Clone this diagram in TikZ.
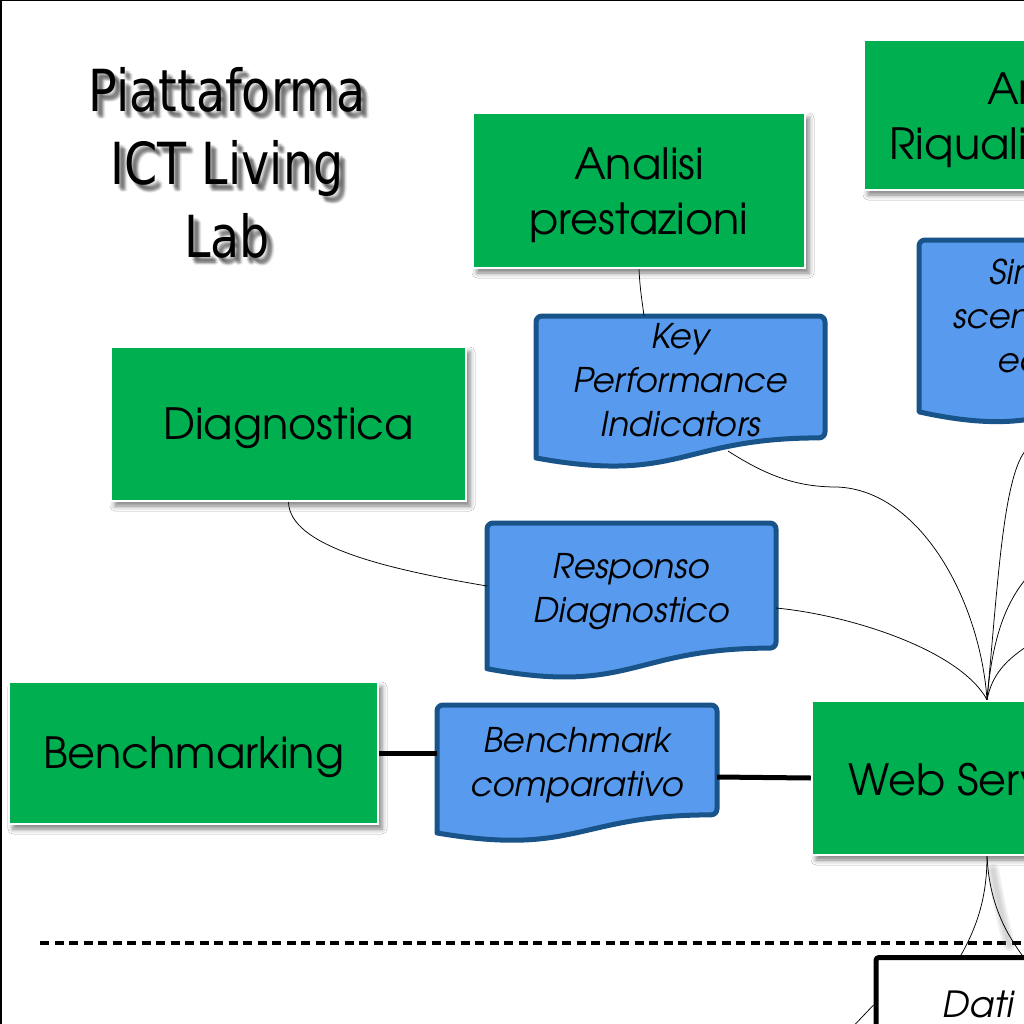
\documentclass[tikz,border=0pt]{standalone}
\usepackage{fontspec}
\setmainfont{texgyreadventor}[Extension=.otf, UprightFont=*-regular, ItalicFont=*-italic, BoldFont=*-bold, BoldItalicFont=*-bolditalic]
\newfontfamily\titlefont[FakeStretch=0.82]{DejaVu Sans}
\usetikzlibrary{calc,shadows.blur}
\definecolor{boxgreen}{RGB}{0,176,80}
\definecolor{docfill}{RGB}{88,155,238}
\definecolor{docedge}{RGB}{24,84,138}
\newcommand\firstline{\rule{0pt}{42pt}}
\tikzset{
  greenbox/.style={rectangle, fill=boxgreen, draw=white, line width=2.5pt, align=center,
    font=\fontsize{43}{55}\selectfont, inner sep=0pt,
    execute at begin node={\rule{0pt}{#1}},
    blur shadow={shadow xshift=4pt, shadow yshift=-5pt, shadow blur radius=5pt, shadow opacity=50}},
  greenbox/.default=41pt,
  docframe/.style={rectangle, inner sep=0pt, outer sep=0pt},
  doctext/.style={align=center, font=\fontsize{34}{44}\selectfont\itshape, inner sep=0pt},
  docshape/.style={fill=docfill, draw=docedge, line width=5pt, line join=round},
  thinlink/.style={draw=black, line width=0.75pt},
  thicklink/.style={draw=black, line width=5pt},
  titletext/.style={align=center, font=\titlefont\fontsize{58}{73}\selectfont, inner sep=0pt},
}
\newcommand\docoutline[1]{%
  \path[docshape] ($(#1.north west)!0.934!(#1.south west)$) [rounded corners=6pt]
    -- (#1.north west) -- (#1.north east) -- ($(#1.north east)!0.802!(#1.south east)$) [sharp corners]
    .. controls ($(#1.north)!0.802!(#1.south)$) and ($(#1.north)!1.107!(#1.south)$) .. cycle;}
\begin{document}
\begin{tikzpicture}[x=1pt,y=-1pt]
\useasboundingbox (0,0) rectangle (1024,1024);
\clip (0,0) rectangle (1024,1024);
\fill[white] (0,0) rectangle (1024,1024);
% frame
\draw[line width=1.5pt] (0.75,1040) -- (0.75,0.75) -- (1040,0.75);

% title with soft shadow
\foreach \dx/\dy [count=\i] in {3/4,5/5,4/6,6/4,5/7,7/6,6/6,4/3,6/8,8/7} {
  \node[titletext, text=black, opacity=0.08] (tsh\i) at (227+\dx,163+\dy) {Piattaforma\\ICT Living\\Lab};
}
\node[titletext] (title) at (227,163) {Piattaforma\\ICT Living\\Lab};

% dashed separator
\coordinate (dashL) at (40,943);
\coordinate (dashR) at (1040,943);
\draw[line width=4pt, dash pattern=on 9pt off 5.5pt] (dashL) -- (dashR);

% green boxes
\node[greenbox, minimum width=332pt, minimum height=155pt] (ap) at (639,190.5) {\firstline Analisi\\prestazioni};
\node[greenbox, minimum width=376pt, minimum height=150pt] (ar) at (1052,115) {\firstline Analisi\\Riqualificazione};
\node[greenbox, minimum width=355pt, minimum height=154pt] (diag) at (288.5,424) {Diagnostica};
\node[greenbox, minimum width=369pt, minimum height=142pt] (bm) at (193.5,753) {Benchmarking};
\node[greenbox=35pt, minimum width=350pt, minimum height=154pt] (ws) at (987,778) {Web Services};

% document shapes
\node[docframe, minimum width=289pt, minimum height=152pt] (kpi) at (680.5,392) {};
\node[docframe, minimum width=289pt, minimum height=156pt] (resp) at (631.5,601) {};
\node[docframe, minimum width=280pt, minimum height=137pt] (bc) at (577,773.5) {};
\node[docframe, minimum width=289pt, minimum height=184pt] (sim) at (1063.5,332) {};
\docoutline{kpi}
\docoutline{resp}
\docoutline{bc}
\docoutline{sim}
\node[doctext] (kpit) at (680.5,380) {Key\\Performance\\Indicators};
\node[doctext] (respt) at (631.5,592) {Responso\\Diagnostico};
\node[doctext] (bct) at (577,765) {Benchmark\\comparativo};
\node[doctext] (simt) at (1086,316) {Simulazione\\scenari tecnico-\\economici};

% data box
\node[rectangle, draw=black, line width=5pt, fill=white, rounded corners=3pt,
      minimum width=224pt, minimum height=140pt] (dati) at (988,1027.5) {};
\node[doctext, font=\fontsize{36}{44}\selectfont\itshape] (datit) at (978,1004) {Dati};

% shadow under the lower connectors
\foreach \w in {12,8,4} {
  \draw[gray, line width=\w pt, opacity=0.12, line cap=round] (993,870) .. controls (998,900) and (1004,925) .. (1009,945);
}

% thick connectors
\draw[thicklink] (bm.east) -- (bm.east -| bc.west);
\draw[thicklink] ($(bc.north east)+(0,72)$) -- (ws.west);

% thin connectors
\draw[thinlink] (ap.south) .. controls (640,290) and (642,300) .. ($(kpi.north west)+(108,0)$);
\draw[thinlink] ($(kpi.north west)+(192,135)$) .. controls (770,478) and (800,487) .. (837,487)
   .. controls (920,490) and (980,600) .. (ws.north);
\draw[thinlink] (diag.south) .. controls (290,545) and (380,568) .. ($(resp.north west)+(0,63)$);
\draw[thinlink] ($(resp.north east)+(0,85)$) .. controls (850,615) and (960,650) .. (ws.north);
\coordinate (s1) at (1040,443);
\coordinate (s2) at (1032,572);
\coordinate (s3) at (1032,643);
\draw[thinlink] (s1) .. controls (1005,440) and (1000,560) .. (ws.north);
\draw[thinlink] (s2) .. controls (1005,600) and (992,640) .. (ws.north);
\draw[thinlink] (s3) .. controls (1005,660) and (992,675) .. (ws.north);
\draw[thinlink] (ws.south) .. controls (987,895) and (978,925) .. (dati.north -| 961,0);
\draw[thinlink] (ws.south) .. controls (989,895) and (1000,925) .. (dati.north -| 1022,0);
\coordinate (dl) at (845,1035);
\draw[thinlink] ($(dati.north west)+(0,50)$) -- (dl);
\end{tikzpicture}
\end{document}
